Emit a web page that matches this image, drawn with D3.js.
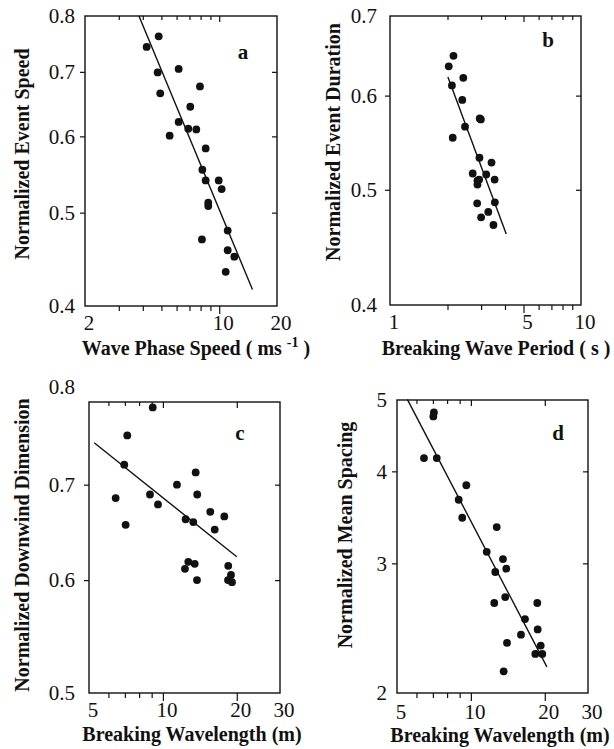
<!DOCTYPE html>
<html>
<head>
<meta charset="utf-8">
<script src="https://cdn.jsdelivr.net/npm/d3@7"></script>
<style>
body { margin: 0; background: #fff; }
svg text { font-family: "Liberation Serif", "Times New Roman", serif; fill: #111; }
.tick line { stroke: #111; stroke-width: 1.2; }
</style>
</head>
<body>
<svg id="fig" width="614" height="749"></svg>
<script>
// panel a : event speed vs wave phase speed
var phaseSpeed = [4.19, 4.84, 4.78, 4.93, 6.15, 5.52, 6.15, 6.90, 7.07, 7.94, 7.60, 8.50,
                  8.17, 8.50, 8.77, 8.77, 8.13, 9.94, 10.30, 11.07, 11.07, 11.99, 10.81];
var eventSpeed = [0.743, 0.762, 0.699, 0.665, 0.705, 0.601, 0.621, 0.611, 0.644, 0.676, 0.610, 0.583,
                  0.554, 0.540, 0.512, 0.508, 0.469, 0.540, 0.529, 0.479, 0.457, 0.450, 0.434];
var fitA_x = [3.82, 14.9], fitA_y = [0.800, 0.416];

// panel b : event duration vs breaking wave period
var wavePeriod = [2.03, 2.15, 2.11, 2.42, 2.39, 2.47, 2.13, 2.95, 2.99, 2.94, 2.71,
                  2.87, 2.93, 2.87, 3.19, 3.40, 3.53, 2.86, 3.54, 3.27, 3.00, 3.48];
var eventDuration = [0.635, 0.648, 0.612, 0.621, 0.595, 0.565, 0.553, 0.574, 0.573, 0.532, 0.516,
                     0.509, 0.510, 0.505, 0.515, 0.527, 0.510, 0.487, 0.488, 0.479, 0.474, 0.467];
var fitB_x = [2.01, 4.06], fitB_y = [0.622, 0.459];

// panel c : downwind dimension vs breaking wavelength
var wavelengthC = [9.09, 7.16, 6.96, 6.42, 7.05, 8.86, 9.55, 11.41, 13.60, 13.80, 12.38, 13.30,
                   15.60, 17.79, 16.26, 12.69, 13.48, 12.30, 13.77, 18.46, 18.94, 18.42, 19.12];
var downwindDim = [0.793, 0.758, 0.723, 0.685, 0.656, 0.689, 0.678, 0.700, 0.714, 0.689, 0.662, 0.659,
                   0.670, 0.665, 0.651, 0.618, 0.616, 0.611, 0.600, 0.614, 0.605, 0.600, 0.598];
var fitC_x = [5.25, 20.0], fitC_y = [0.749, 0.623];

// panel d : mean spacing vs breaking wavelength
var wavelengthD = [7.07, 7.03, 6.44, 7.26, 9.58, 8.92, 9.22, 12.74, 11.60, 13.51, 13.94, 12.57,
                   13.80, 12.45, 16.61, 16.00, 14.03, 18.64, 18.71, 19.25, 18.30, 19.54, 13.60];
var meanSpacing = [4.81, 4.75, 4.17, 4.17, 3.83, 3.66, 3.46, 3.36, 3.11, 3.04, 2.95, 2.92,
                   2.70, 2.65, 2.52, 2.40, 2.34, 2.65, 2.44, 2.32, 2.26, 2.26, 2.14];
var fitD_x = [5.51, 20.4], fitD_y = [5.01, 2.17];

// axis ticks
var aXLabels = [2, 10, 20], aXMajor = [10], aXMinor = [3, 4, 5, 6, 7, 8, 9];
var aYLabels = [0.4, 0.5, 0.6, 0.7, 0.8];
var bXLabels = [1, 5, 10], bXMajor = [5], bXMinor = [2, 3, 4, 6, 7, 8, 9];
var bYLabels = [0.4, 0.5, 0.6, 0.7];
var cXLabels = [5, 10, 20, 30], cXMajor = [10, 20], cXMinor = [6, 7, 8, 9];
var cYLabels = [0.5, 0.6, 0.7, 0.8];
var dXLabels = [5, 10, 20, 30], dXMajor = [10, 20], dXMinor = [6, 7, 8, 9];
var dYLabels = [2, 3, 4, 5];

var svg = d3.select("#fig");

function drawPanel(p) {
    var b = p.box; // left, right, top, bottom
    var x = d3.scaleLog().domain(p.xDom).range([b[0], b[1]]);
    var y = d3.scaleLog().domain(p.yDom).range([b[3], b[2]]);
    var g = svg.append("g");

    g.append("rect")
        .attr("x", b[0]).attr("y", b[2])
        .attr("width", b[1] - b[0]).attr("height", b[3] - b[2])
        .attr("fill", "none").attr("stroke", "#111").attr("stroke-width", 1.4);

    var yInner = p.yLab.filter(function(d) { return d > p.yDom[0] && d < p.yDom[1]; });

    // bottom ticks point out, top ticks point in
    [[b[3], 8, 5], [b[2], 6, 4]].forEach(function(s) {
        var ax = g.append("g").attr("transform", "translate(0," + s[0] + ")")
            .call(d3.axisBottom(x).tickValues(p.xMajor).tickSize(s[1]).tickFormat(""));
        ax.select(".domain").remove();
        var ax2 = g.append("g").attr("transform", "translate(0," + s[0] + ")")
            .call(d3.axisBottom(x).tickValues(p.xMinor).tickSize(s[2]).tickFormat(""));
        ax2.select(".domain").remove();
    });
    // left out, right in
    [b[0], b[1]].forEach(function(pos) {
        var ax = g.append("g").attr("transform", "translate(" + pos + ",0)")
            .call(d3.axisLeft(y).tickValues(yInner).tickSize(5).tickFormat(""));
        ax.select(".domain").remove();
    });

    g.selectAll("text.xl").data(p.xLab).join("text")
        .attr("class", "xl")
        .attr("x", function(d) { return x(d) + 4; })
        .attr("y", b[3] + p.xLabGap)
        .attr("text-anchor", "middle")
        .style("font-size", "21px")
        .text(function(d) { return d; });

    g.selectAll("text.yl").data(p.yLab).join("text")
        .attr("class", "yl")
        .attr("x", b[0] - p.yLabGap)
        .attr("y", function(d, i) { return y(d) + (p.yNudge ? p.yNudge[i] : 0); })
        .attr("dy", "0.35em")
        .attr("text-anchor", "end")
        .style("font-size", "21px")
        .text(function(d) { return d; });

    var line = d3.line()
        .x(function(d) { return x(d[0]); })
        .y(function(d) { return y(d[1]); });
    g.append("path")
        .datum(d3.zip(p.fitX, p.fitY))
        .attr("d", line)
        .attr("fill", "none").attr("stroke", "#111").attr("stroke-width", 1.4);

    g.selectAll("circle").data(d3.zip(p.xs, p.ys)).join("circle")
        .attr("cx", function(d) { return x(d[0]); })
        .attr("cy", function(d) { return y(d[1]); })
        .attr("r", 3.9)
        .attr("fill", "#111");

    g.append("text")
        .attr("x", p.letterPos[0]).attr("y", p.letterPos[1])
        .attr("dy", "0.35em").attr("text-anchor", "middle")
        .style("font-size", "21px").style("font-weight", "bold")
        .text(p.letter);

    var xt = g.append("text")
        .attr("x", p.xTitlePos[0]).attr("y", p.xTitlePos[1])
        .attr("text-anchor", "middle")
        .style("font-size", "20px").style("font-weight", "bold");
    xt.append("tspan").text(p.xTitle[0]);
    if (p.xTitle.length > 1) {
        xt.append("tspan").attr("dy", -8).style("font-size", "14px").text(p.xTitle[1]);
        xt.append("tspan").attr("dy", 8).text(p.xTitle[2]);
    }

    g.append("text")
        .attr("transform", "translate(" + p.yTitlePos[0] + "," + p.yTitlePos[1] + ") rotate(-90)")
        .attr("dy", "0.35em")
        .attr("text-anchor", "middle")
        .style("font-size", "20px").style("font-weight", "bold")
        .text(p.yTitle);
}

drawPanel({
    box: [85, 277, 16, 306], xDom: [2, 20], yDom: [0.4, 0.8],
    xLab: aXLabels, xMajor: aXMajor, xMinor: aXMinor, yLab: aYLabels,
    xLabGap: 24, yLabGap: 10,
    xs: phaseSpeed, ys: eventSpeed, fitX: fitA_x, fitY: fitA_y,
    letter: "a", letterPos: [243, 52],
    xTitle: ["Wave Phase Speed ( ms ", "-1", " )"], xTitlePos: [196, 355],
    yTitle: "Normalized Event Speed", yTitlePos: [22, 154]
});

drawPanel({
    box: [390, 581, 16, 305], xDom: [1, 10], yDom: [0.4, 0.7],
    xLab: bXLabels, xMajor: bXMajor, xMinor: bXMinor, yLab: bYLabels,
    xLabGap: 24, yLabGap: 13,
    xs: wavePeriod, ys: eventDuration, fitX: fitB_x, fitY: fitB_y,
    letter: "b", letterPos: [548, 40],
    xTitle: ["Breaking Wave Period ( s )"], xTitlePos: [496, 355],
    yTitle: "Normalized Event Duration", yTitlePos: [333, 142]
});

drawPanel({
    box: [89, 280, 402, 693], xDom: [5, 30], yDom: [0.5, 0.8],
    xLab: cXLabels, xMajor: cXMajor, xMinor: cXMinor, yLab: cYLabels, yNudge: [0, 0, 0, -15],
    xLabGap: 24, yLabGap: 14,
    xs: wavelengthC, ys: downwindDim, fitX: fitC_x, fitY: fitC_y,
    letter: "c", letterPos: [240, 433],
    xTitle: ["Breaking Wavelength (m)"], xTitlePos: [192, 741],
    yTitle: "Normalized Downwind Dimension", yTitlePos: [22, 545]
});

drawPanel({
    box: [397, 588, 400, 693], xDom: [5, 30], yDom: [2, 5],
    xLab: dXLabels, xMajor: dXMajor, xMinor: dXMinor, yLab: dYLabels,
    xLabGap: 26, yLabGap: 10,
    xs: wavelengthD, ys: meanSpacing, fitX: fitD_x, fitY: fitD_y,
    letter: "d", letterPos: [558, 433],
    xTitle: ["Breaking Wavelength (m)"], xTitlePos: [500, 742],
    yTitle: "Normalized Mean Spacing", yTitlePos: [345, 535]
});
</script>
</body>
</html>
